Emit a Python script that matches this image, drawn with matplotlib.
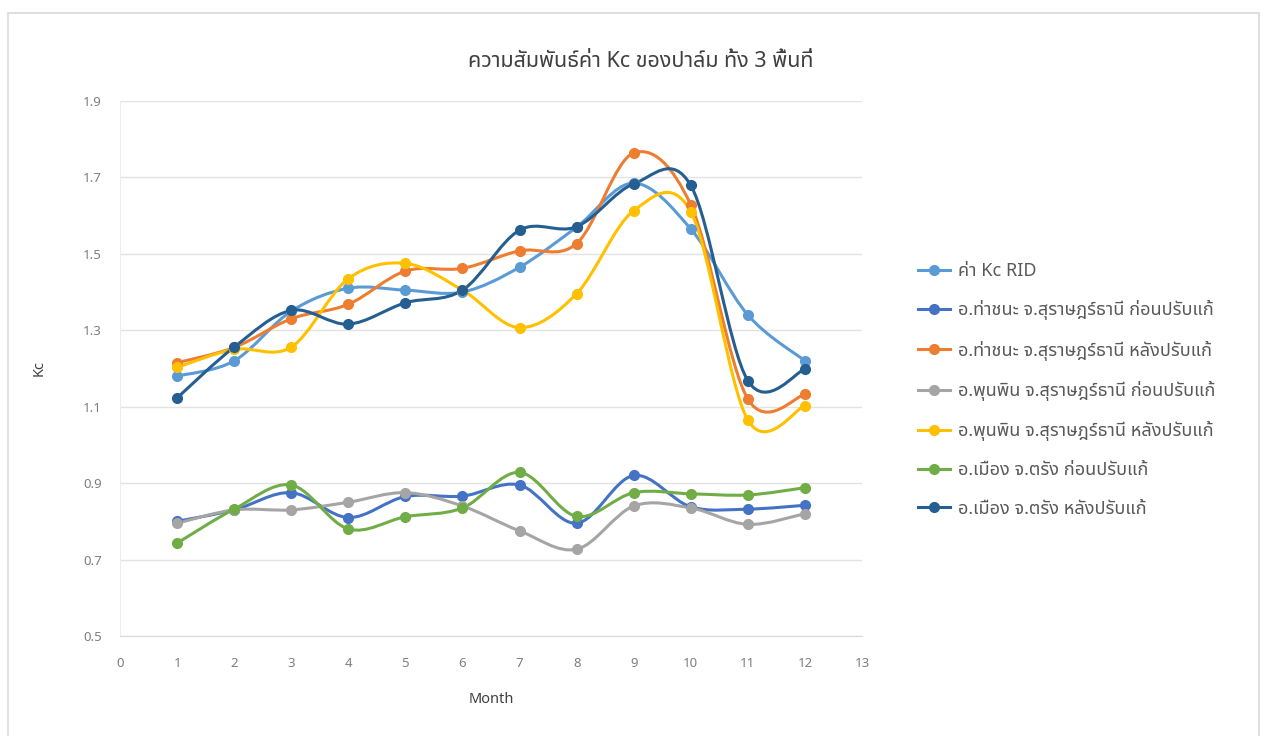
import matplotlib
matplotlib.use('Agg')
import matplotlib.pyplot as plt
from matplotlib.path import Path
from matplotlib.patches import PathPatch
from matplotlib.lines import Line2D

plt.rcParams['font.family'] = ['Noto Sans Thai', 'IBM Plex Sans Thai', 'DejaVu Sans']

months = [1, 2, 3, 4, 5, 6, 7, 8, 9, 10, 11, 12]

series_names = [
    "ค่า Kc RID",
    "อ.ท่าชนะ จ.สุราษฎร์ธานี ก่อนปรับแก้",
    "อ.ท่าชนะ จ.สุราษฎร์ธานี หลังปรับแก้",
    "อ.พุนพิน จ.สุราษฎร์ธานี ก่อนปรับแก้",
    "อ.พุนพิน จ.สุราษฎร์ธานี หลังปรับแก้",
    "อ.เมือง จ.ตรัง ก่อนปรับแก้",
    "อ.เมือง จ.ตรัง หลังปรับแก้",
]

kc_rid = [1.18, 1.22, 1.35, 1.41, 1.405, 1.40, 1.465, 1.57, 1.685, 1.565, 1.34, 1.22]
thachana_before = [0.80, 0.83, 0.875, 0.81, 0.865, 0.866, 0.895, 0.795, 0.92, 0.838, 0.832, 0.842]
thachana_after = [1.215, 1.255, 1.33, 1.368, 1.455, 1.462, 1.508, 1.527, 1.764, 1.628, 1.12, 1.132]
phunphin_before = [0.795, 0.83, 0.83, 0.85, 0.875, 0.84, 0.775, 0.727, 0.84, 0.835, 0.792, 0.82]
phunphin_after = [1.203, 1.25, 1.256, 1.435, 1.475, 1.405, 1.307, 1.396, 1.613, 1.61, 1.065, 1.103]
mueang_before = [0.743, 0.832, 0.895, 0.78, 0.812, 0.835, 0.928, 0.813, 0.875, 0.872, 0.869, 0.888]
mueang_after = [1.123, 1.256, 1.352, 1.316, 1.372, 1.405, 1.562, 1.571, 1.683, 1.679, 1.168, 1.198]

series_values = [kc_rid, thachana_before, thachana_after, phunphin_before,
                 phunphin_after, mueang_before, mueang_after]
colors = ['#5B9BD5', '#4472C4', '#ED7D31', '#A5A5A5', '#FFC000', '#70AD47', '#255E91']


def smooth_path(xs, ys):
    # Excel-style smoothed line: cubic Bezier with Catmull-Rom control points
    verts = [(xs[0], ys[0])]
    codes = [Path.MOVETO]
    n = len(xs)
    for i in range(n - 1):
        x0, y0 = (xs[i - 1], ys[i - 1]) if i > 0 else (xs[i], ys[i])
        x3, y3 = (xs[i + 2], ys[i + 2]) if i + 2 < n else (xs[i + 1], ys[i + 1])
        c1 = (xs[i] + (xs[i + 1] - x0) / 6, ys[i] + (ys[i + 1] - y0) / 6)
        c2 = (xs[i + 1] - (x3 - xs[i]) / 6, ys[i + 1] - (y3 - ys[i]) / 6)
        verts += [c1, c2, (xs[i + 1], ys[i + 1])]
        codes += [Path.CURVE4] * 3
    return Path(verts, codes)


fig = plt.figure(figsize=(12.61, 7.36), dpi=100)
ax = fig.add_axes([0.0952, 0.1359, 0.5884, 0.7269])

for vals, col in zip(series_values, colors):
    ax.add_patch(PathPatch(smooth_path(months, vals), facecolor='none',
                           edgecolor=col, lw=2.2, capstyle='round', zorder=2))
    ax.plot(months, vals, linestyle='none', marker='o', markersize=7,
            color=col, zorder=3)

ax.set_xlim(0, 13)
ax.set_ylim(0.5, 1.9)
ax.set_xticks(range(0, 14))
ax.set_yticks([0.5, 0.7, 0.9, 1.1, 1.3, 1.5, 1.7, 1.9])
ax.set_yticklabels(['0.5', '0.7', '0.9', '1.1', '1.3', '1.5', '1.7', '1.9'])
ax.grid(axis='y', color='#E3E3E3', lw=1)
ax.set_axisbelow(True)
for s in ['top', 'right']:
    ax.spines[s].set_visible(False)
ax.spines['bottom'].set_color('#D9D9D9')
ax.spines['left'].set_color('#EDEDED')
ax.tick_params(axis='both', length=0, labelsize=9.5, colors='#7F7F7F')
ax.tick_params(axis='y', pad=13)
ax.tick_params(axis='x', pad=15)

ax.set_xlabel("Month", fontsize=10.5, color='#404040', labelpad=16)
ax.set_ylabel("Kc", fontsize=10.5, color='#404040', labelpad=26)
fig.text(0.508, 0.916, "ความสัมพันธ์ค่า Kc ของปาล์ม ทั้ง 3 พื้นที่",
         ha='center', va='center', fontsize=15.5, color='#404040')

handles = [Line2D([0], [0], color=c, lw=2.2, marker='o', markersize=7) for c in colors]
leg = fig.legend(handles, series_names, loc='upper left', bbox_to_anchor=(0.715, 0.666),
                 frameon=False, fontsize=13, labelspacing=1.12, handlelength=1.8,
                 handletextpad=0.4, labelcolor='#595959')

# chart area border (bottom edge falls outside the picture)
fig.patches.append(plt.Rectangle((0.0063, -0.02), 0.992, 1.002, transform=fig.transFigure,
                                 fill=False, edgecolor='#D9D9D9', lw=1.2))

fig.savefig("out.png", dpi=100)
